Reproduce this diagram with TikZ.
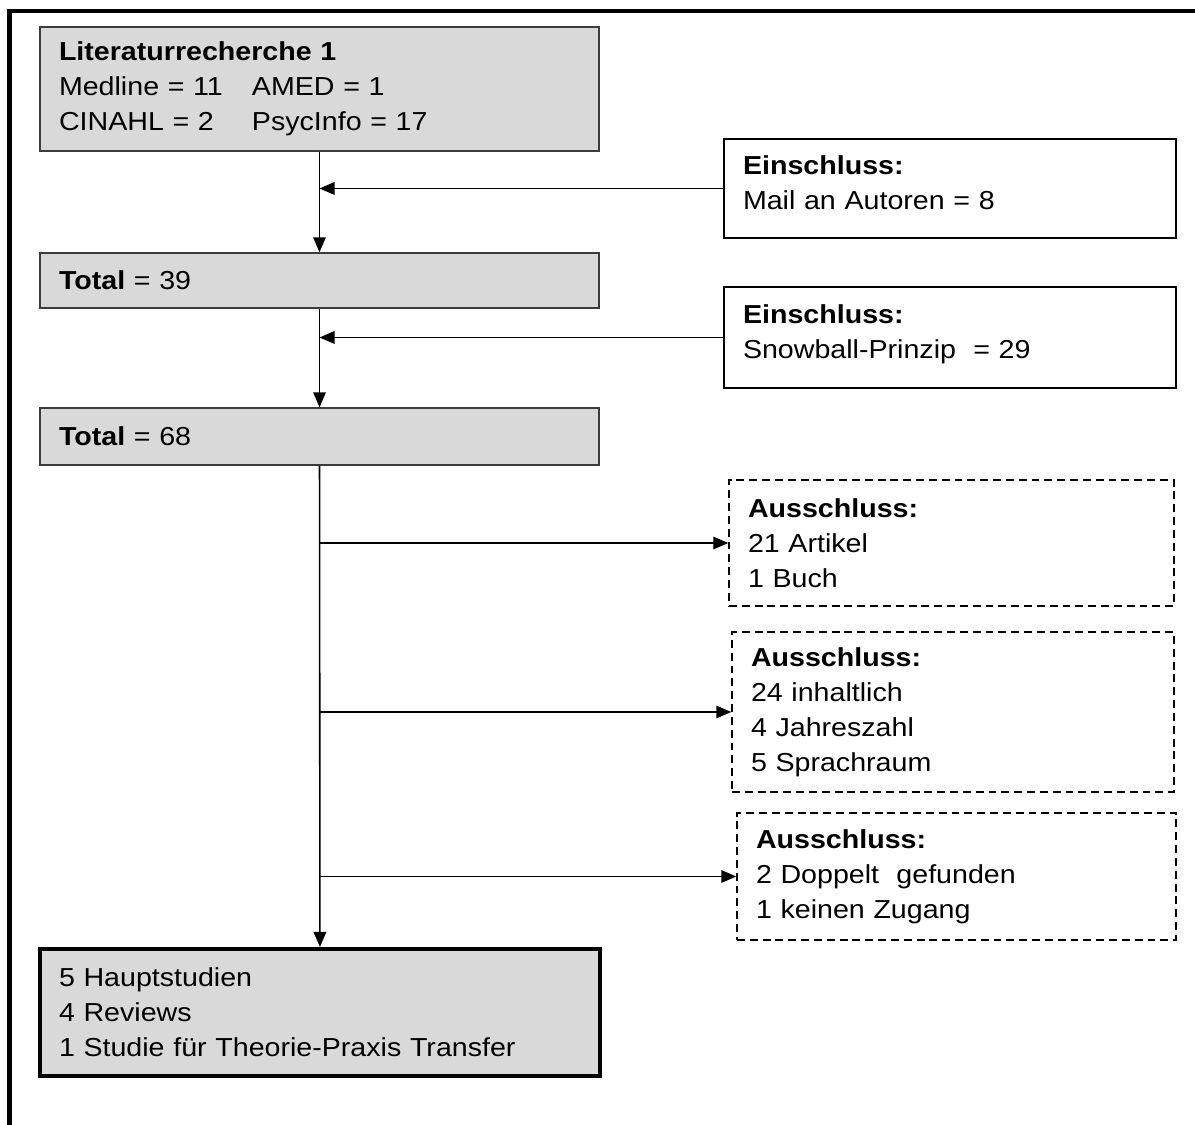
\documentclass[tikz,border=0pt]{standalone}
\usepackage{fontspec}
\setmainfont[FakeStretch=1.1]{Liberation Sans}
\usetikzlibrary{arrows.meta}
\definecolor{boxgray}{RGB}{217,217,217}
\definecolor{rimgray}{RGB}{60,60,60}

\begin{document}
\begin{tikzpicture}[
  font=\fontsize{14.8pt}{19.9pt}\selectfont,
  every node/.style={inner xsep=0.38cm, inner ysep=0pt, align=left},
  graybox/.style={draw=rimgray, line width=0.8pt, fill=boxgray},
  inbox/.style={draw, line width=0.8pt, text depth=27pt},
  outbox/.style={draw, line width=0.8pt, dash pattern=on 4.5pt off 2.8pt},
  endbox/.style={draw, line width=2.3pt, fill=boxgray},
  pfeil/.style={line width=0.9pt, -{Triangle[length=0.3cm,width=0.25cm]}}
]
\useasboundingbox (0,0) rectangle (23.9,22.48);
% frame
\draw[line width=2.6pt] (0.19,-0.2) -- (0.19,22.26) -- (24.1,22.26);

% left column
\draw (6.39,20.70) node[graybox,text width=10.42cm,minimum height=2.48cm](lit) {\textbf{Literaturrecherche 1}\\\makebox[3.86cm][l]{Medline = 11}AMED = 1\\\makebox[3.86cm][l]{CINAHL = 2}PsycInfo = 17};
\draw (6.39,16.87) node[graybox,text width=10.42cm,minimum height=1.10cm](totala) {\textbf{Total} = 39};
\draw (6.39,13.75) node[graybox,text width=10.42cm,minimum height=1.14cm](totalb) {\textbf{Total} = 68};
\draw (6.40,2.23) node[endbox,text width=10.44cm,minimum height=2.54cm](ergebnis) {5 Hauptstudien\\4 Reviews\\1 Studie für Theorie-Praxis Transfer};

% right column
\draw (19.00,18.71) node[inbox,text width=8.28cm,minimum height=1.98cm](eina) {\textbf{Einschluss:}\\Mail an Autoren = 8};
\draw (19.00,15.73) node[inbox,text width=8.28cm,minimum height=2.02cm](einb) {\textbf{Einschluss:}\\Snowball-Prinzip\ \ = 29};
\draw (19.03,11.62) node[outbox,text width=8.14cm,minimum height=2.52cm](ausa) {\textbf{Ausschluss:}\\21 Artikel\\1 Buch};
\draw (19.06,8.24) node[outbox,text width=8.08cm,minimum height=3.20cm](ausb) {\textbf{Ausschluss:}\\24 inhaltlich\\4 Jahreszahl\\5 Sprachraum};
\draw (19.13,4.95) node[outbox,text width=8.02cm,minimum height=2.54cm](ausc) {\textbf{Ausschluss:}\\2 Doppelt\ \ gefunden\\1 keinen Zugang};

% connectors
\draw[pfeil] (lit) -- (totala);
\draw[pfeil] (totala) -- (totalb);
\draw[pfeil] (totalb) -- (ergebnis);
\draw[pfeil] (eina.west) -- (eina.west -| lit.south);
\draw[pfeil] (einb.west) -- (einb.west -| lit.south);
\draw[pfeil] (ausa.west -| totalb.south) -- (ausa.west);
\draw[pfeil] (ausb.west -| totalb.south) -- (ausb.west);
\draw[pfeil] (ausc.west -| totalb.south) -- (ausc.west);
\end{tikzpicture}
\end{document}
